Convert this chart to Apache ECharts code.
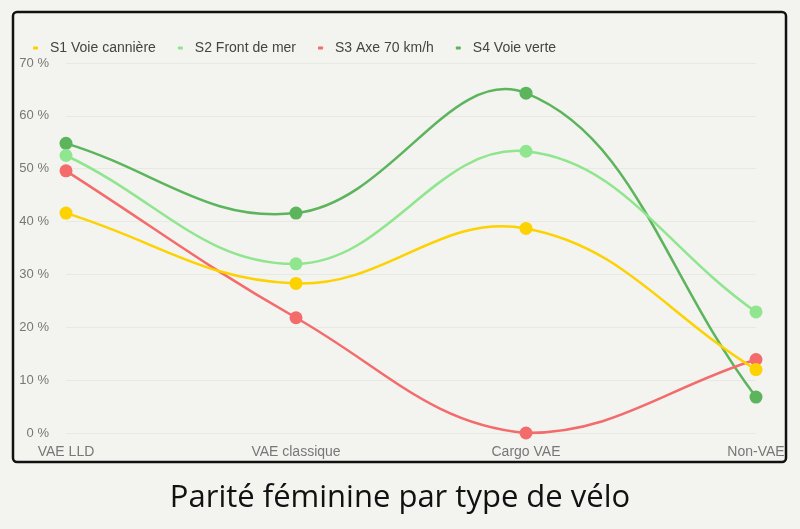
<!DOCTYPE html>
<html>
<head>
<meta charset="utf-8">
<script src="https://cdn.jsdelivr.net/npm/echarts@6/dist/echarts.min.js"></script>
<style>
  html, body { margin: 0; padding: 0; background: #f3f3ef; }
  #chart { width: 800px; height: 529px; }
</style>
</head>
<body>
<div id="chart"></div>
<script>
// categories and series (% of women per bike type)
var categories = ['VAE LLD', 'VAE classique', 'Cargo VAE', 'Non-VAE'];
var s1 = [41.6, 28.3, 38.7, 12.0];  // S1 Voie cannière
var s2 = [52.5, 32.0, 53.3, 22.9];  // S2 Front de mer
var s3 = [49.6, 21.8, 0, 13.9];     // S3 Axe 70 km/h
var s4 = [54.8, 41.6, 64.3, 6.8];   // S4 Voie verte
var names = ['S1 Voie cannière', 'S2 Front de mer', 'S3 Axe 70 km/h', 'S4 Voie verte'];
var colors = ['#fcd200', '#8fe68f', '#f46b6b', '#5cb55c'];
var allData = [s1, s2, s3, s4];

var myChart = echarts.init(document.getElementById('chart'));

// courbe type "tension" : points de contrôle le long du segment voisin, bornés à la zone du graphe
function curvePath(pts, t, area) {
    var cps = [];
    for (var i = 0; i < pts.length; i++) {
        var cur = pts[i];
        var prev = pts[i - 1] || cur;
        var next = pts[i + 1] || cur;
        var d01 = Math.hypot(cur[0] - prev[0], cur[1] - prev[1]);
        var d12 = Math.hypot(next[0] - cur[0], next[1] - cur[1]);
        var s01 = d01 / (d01 + d12), s12 = d12 / (d01 + d12);
        if (isNaN(s01)) s01 = 0;
        if (isNaN(s12)) s12 = 0;
        var fa = t * s01, fb = t * s12;
        var p = [cur[0] - fa * (next[0] - prev[0]), cur[1] - fa * (next[1] - prev[1])];
        var n = [cur[0] + fb * (next[0] - prev[0]), cur[1] + fb * (next[1] - prev[1])];
        [p, n].forEach(function (c) {
            c[0] = Math.min(Math.max(c[0], area.x), area.x + area.width);
            c[1] = Math.min(Math.max(c[1], area.y), area.y + area.height);
        });
        cps.push({ prev: p, next: n });
    }
    var d = 'M' + pts[0][0] + ' ' + pts[0][1];
    for (var k = 1; k < pts.length; k++) {
        d += ' C' + cps[k - 1].next[0] + ' ' + cps[k - 1].next[1] + ' ' +
             cps[k].prev[0] + ' ' + cps[k].prev[1] + ' ' + pts[k][0] + ' ' + pts[k][1];
    }
    return d;
}

function lineSeries(i) {
    var arr = allData[i];
    return {
        name: names[i],
        type: 'custom',
        data: arr.map(function (v, j) { return [j, v]; }),
        encode: { x: 0, y: 1 },
        itemStyle: { color: colors[i] },
        z: 10 - 2 * i,
        silent: true,
        renderItem: function (params, api) {
            if (params.dataIndex !== 0) return null;
            var pts = arr.map(function (v, j) { return api.coord([j, v]); });
            return {
                type: 'path',
                shape: { pathData: curvePath(pts, 0.4, params.coordSys) },
                style: { fill: 'none', stroke: colors[i], lineWidth: 2.5 }
            };
        }
    };
}

function dotSeries(i) {
    return {
        name: names[i],
        type: 'scatter',
        data: allData[i],
        symbol: 'circle',
        symbolSize: 13,
        itemStyle: { color: colors[i], opacity: 1 },
        z: 11 - 2 * i
    };
}

var series = [];
for (var i = 0; i < 4; i++) {
    series.push(dotSeries(i));
    series.push(lineSeries(i));
}

var option = {
    backgroundColor: '#f3f3ef',
    animation: false,
    title: {
        text: 'Parité féminine par type de vélo',
        left: 'center',
        top: 478,
        textStyle: { fontFamily: 'Open Sans', fontSize: 31, fontWeight: 'normal', color: '#111' }
    },
    legend: {
        data: names,
        left: 28,
        top: 36,
        itemWidth: 5,
        itemHeight: 3,
        icon: 'roundRect',
        itemGap: 22,
        textStyle: { fontFamily: 'Liberation Sans', fontSize: 14, color: '#444', padding: [0, 0, 0, 7] }
    },
    grid: { left: 66, right: 44, top: 63, bottom: 96, containLabel: false },
    xAxis: {
        type: 'category',
        data: categories,
        boundaryGap: false,
        axisLine: { show: false },
        axisTick: { show: false },
        axisLabel: { fontFamily: 'Liberation Sans', fontSize: 14, color: '#777', margin: 12 }
    },
    yAxis: {
        type: 'value',
        min: 0,
        max: 70,
        interval: 10,
        axisLabel: { formatter: '{value} %', fontFamily: 'Liberation Sans', fontSize: 13, color: '#777', margin: 17 },
        splitLine: { lineStyle: { color: '#e9e9e4', width: 1 } }
    },
    graphic: [{
        type: 'rect',
        shape: { x: 13, y: 12, width: 773, height: 450, r: 4 },
        style: { fill: 'none', stroke: '#111', lineWidth: 2.5 },
        z: 100
    }],
    series: series
};

myChart.setOption(option);
</script>
</body>
</html>
